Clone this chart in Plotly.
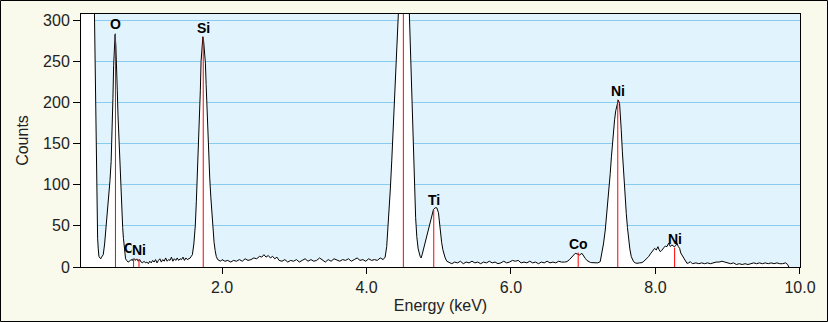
import plotly.graph_objects as go

# ---- Spectrum values, by region (energy keV, counts) ----
noise_o_e = [0.05, 0.12, 0.18, 0.22, 0.234, 0.255, 0.269, 0.278, 0.287, 0.296,
             0.31, 0.322, 0.333, 0.345, 0.356, 0.375, 0.393, 0.41, 0.43, 0.449,
             0.465, 0.48, 0.49, 0.50, 0.51, 0.52, 0.53, 0.54, 0.55, 0.56,
             0.57, 0.583, 0.595, 0.605, 0.615, 0.625, 0.635, 0.645, 0.655, 0.665]
noise_o_c = [900, 850, 700, 500, 310, 150, 49, 35, 22, 13,
             11, 10, 12, 13, 15, 28, 45, 65, 85, 105,
             128, 165, 205, 245, 272, 283, 270, 250, 215, 185,
             160, 140, 115, 90, 65, 48, 35, 25, 16, 10]

base1_e = [0.68, 0.70, 0.72, 0.74, 0.76, 0.78, 0.80, 0.82, 0.84, 0.86,
           0.88, 0.90, 0.92, 0.94, 0.96, 0.98, 1.00, 1.02, 1.04, 1.06,
           1.08, 1.10, 1.12, 1.14, 1.16, 1.18, 1.20, 1.22, 1.24, 1.26,
           1.28, 1.30, 1.32, 1.34, 1.36, 1.38, 1.40, 1.42, 1.44, 1.46,
           1.48, 1.50, 1.52, 1.54]
base1_c = [8, 6, 7, 9, 8, 12, 8, 10, 7, 9,
           6, 5, 7, 5, 6, 4, 7, 5, 8, 6,
           9, 5, 8, 10, 6, 9, 7, 11, 7, 9,
           8, 12, 7, 10, 8, 11, 8, 10, 9, 12,
           8, 11, 9, 10]

si_e = [1.56, 1.575, 1.59, 1.61, 1.63, 1.645, 1.66, 1.675, 1.69, 1.70,
        1.71, 1.72, 1.735, 1.745, 1.76, 1.77, 1.78, 1.79, 1.80, 1.815,
        1.83, 1.845, 1.86, 1.875, 1.89, 1.905, 1.92, 1.94]
si_c = [11, 13, 15, 28, 50, 80, 112, 145, 185, 215,
        250, 268, 280, 275, 262, 248, 222, 195, 165, 135,
        108, 85, 62, 45, 30, 20, 13, 9]

base2_e = [1.96, 1.98, 2.00, 2.04, 2.08, 2.12, 2.16, 2.20, 2.24, 2.28,
           2.32, 2.36, 2.40, 2.44, 2.48, 2.52, 2.55, 2.58, 2.61, 2.64,
           2.67, 2.70, 2.73, 2.76, 2.79, 2.83, 2.87, 2.91, 2.95, 2.99,
           3.03, 3.07, 3.11, 3.15, 3.19, 3.23, 3.27, 3.31, 3.35, 3.39,
           3.43, 3.47, 3.51, 3.55, 3.59, 3.63, 3.67, 3.71, 3.75, 3.79,
           3.83, 3.87, 3.91, 3.95, 3.99, 4.03, 4.07, 4.11, 4.15, 4.19,
           4.23]
base2_c = [8, 7, 9, 7, 8, 6, 8, 7, 9, 7,
           10, 8, 9, 11, 10, 13, 12, 15, 12, 14,
           11, 13, 10, 12, 8, 7, 9, 6, 8, 7,
           9, 6, 8, 10, 7, 9, 7, 8, 11, 8,
           6, 9, 7, 10, 8, 7, 9, 8, 10, 7,
           9, 11, 8, 9, 7, 10, 8, 9, 8, 11,
           9]

ti_e = [4.258, 4.28, 4.304, 4.33, 4.35, 4.375, 4.396, 4.415, 4.428, 4.442,
        4.47, 4.50, 4.52, 4.55, 4.575, 4.594, 4.613, 4.628, 4.641, 4.653,
        4.664, 4.68, 4.696, 4.715, 4.742, 4.756, 4.77, 4.788, 4.81, 4.835,
        4.858, 4.881, 4.905, 4.927, 4.95, 4.973, 4.996, 5.019, 5.04, 5.057,
        5.075, 5.089, 5.112]
ti_c = [12, 25, 53, 95, 130, 180, 231, 270, 292, 310,
        420, 560, 580, 480, 360, 307, 231, 190, 150, 118,
        90, 60, 37, 22, 13, 11, 15, 21, 29, 37,
        45, 53, 62, 70, 72, 72, 66, 45, 30, 21,
        14, 11, 7]

base3_e = [5.14, 5.18, 5.22, 5.26, 5.30, 5.34, 5.38, 5.42, 5.46, 5.50,
           5.54, 5.58, 5.62, 5.66, 5.70, 5.74, 5.78, 5.82, 5.86, 5.90,
           5.94, 5.98, 6.02, 6.06, 6.10, 6.14, 6.18, 6.22, 6.26, 6.30,
           6.34, 6.38, 6.42, 6.46, 6.50, 6.54, 6.58, 6.62, 6.66, 6.70,
           6.74]
base3_c = [6, 4, 6, 5, 7, 4, 6, 5, 7, 5,
           6, 4, 6, 5, 7, 5, 6, 4, 5, 7,
           5, 6, 8, 7, 8, 5, 6, 5, 7, 5,
           6, 4, 6, 5, 7, 5, 6, 5, 7, 6,
           6]

coni_e = [6.774, 6.81, 6.843, 6.87, 6.889, 6.921, 6.949, 6.982, 7.005, 7.028,
          7.05, 7.073, 7.10, 7.12, 7.145, 7.166, 7.20, 7.235, 7.259, 7.28,
          7.305, 7.32, 7.337, 7.355, 7.374, 7.39, 7.406, 7.42, 7.434, 7.45,
          7.467, 7.485, 7.503, 7.515, 7.526, 7.542, 7.558, 7.577, 7.596, 7.612,
          7.628, 7.645, 7.665, 7.68, 7.697, 7.72, 7.744, 7.78, 7.813, 7.84,
          7.859, 7.88, 7.905, 7.93, 7.951, 7.97, 7.988, 8.011, 8.034, 8.05,
          8.066, 8.085, 8.104, 8.12, 8.136, 8.159, 8.181, 8.205, 8.228, 8.245,
          8.26, 8.28, 8.298, 8.315, 8.334, 8.35, 8.367, 8.385, 8.399, 8.42,
          8.436, 8.46, 8.482, 8.51]
coni_c = [6.5, 9, 12.6, 15, 16.6, 15.8, 14.6, 16.6, 13, 10.5,
          8, 6.5, 5.5, 5.3, 5, 4.5, 5, 6.5, 16.6, 28,
          45, 58, 73, 92, 114, 134, 154, 167, 179, 190,
          199, 203, 199, 185, 167, 140, 114, 88, 65, 48,
          33, 22, 12.6, 9, 6.5, 5, 4.5, 5, 5.3, 7,
          8.5, 10, 12.6, 16, 18.7, 21, 22.7, 20.7, 24.7, 21,
          18.7, 20, 22.7, 24, 25.5, 24.7, 28.8, 25, 26.8, 25,
          24.7, 26, 28.8, 25, 22.7, 17, 14.6, 11, 8.5, 7,
          4.5, 5, 6.5, 4]

tail_e = [8.56, 8.60, 8.64, 8.68, 8.72, 8.76, 8.80, 8.84, 8.88, 8.92,
          8.96, 9.00, 9.04, 9.08, 9.12, 9.16, 9.20, 9.24, 9.28, 9.32,
          9.36, 9.40, 9.44, 9.48, 9.52, 9.56, 9.60, 9.64, 9.68, 9.72,
          9.76, 9.80, 9.83, 9.845]
tail_c = [5, 4, 5, 4, 5, 4, 5, 6, 6, 7,
          6, 5, 4, 5, 3, 4, 3, 4, 3, 4,
          5, 4, 5, 4, 5, 4, 5, 4, 5, 4,
          4, 5, 3, 0]

# ---- Element marker lines ----
line_energy = [0.525, 0.776, 0.851, 1.740, 4.510, 4.931, 6.930, 7.478, 8.265]
line_height = [284, 12, 10, 280, 700, 70, 17.4, 203.7, 23.5]
line_label = ["O", "Co", "Ni", "Si", "", "Ti", "Co", "Ni", "Ni"]

# ---- Axis ticks ----
x_tickvals = [2, 4, 6, 8, 10]
x_ticktext = ["2.0", "4.0", "6.0", "8.0", "10.0"]
y_tickvals = [0, 50, 100, 150, 200, 250, 300]
y_ticktext = ["0", "50", "100", "150", "200", "250", "300"]

energy = noise_o_e + base1_e + si_e + base2_e + ti_e + base3_e + coni_e + tail_e
counts = noise_o_c + base1_c + si_c + base2_c + ti_c + base3_c + coni_c + tail_c
assert len(energy) == len(counts)

FONT = "Liberation Sans, Arial, sans-serif"
PLOT_BG = "#E1F3FC"

fig = go.Figure()
fig.add_trace(go.Scatter(
    x=energy, y=counts, mode="lines",
    line=dict(color="black", width=1),
    fill="tozeroy", fillcolor="white",
    hoverinfo="skip", showlegend=False))

lx, ly = [], []
for e, h in zip(line_energy, line_height):
    lx += [e, e, None]
    ly += [0, h, None]
fig.add_trace(go.Scatter(
    x=lx, y=ly, mode="lines",
    line=dict(color="#FF0000", width=1),
    hoverinfo="skip", showlegend=False))

annotations = []
for i, (e, h, lab) in enumerate(zip(line_energy, line_height, line_label)):
    if not lab:
        continue
    ann = dict(
        x=e, y=h, xref="x", yref="y", text=lab, showarrow=False,
        xanchor="center", yanchor="bottom", borderpad=0,
        font=dict(family=FONT, size=14, color="black", weight="bold"))
    if i == 2:  # the Ni L label sits on top of the Co L label
        ann["bgcolor"] = PLOT_BG
    annotations.append(ann)

# plot area: left 81px, width 719px; top 14px, height 253px
L, W, T, H = 81, 719, 14, 253
fig.add_shape(type="rect", xref="paper", yref="paper",
              x0=(0.5 - L) / W, x1=(827.5 - L) / W,
              y0=1 - (321.5 - T) / H, y1=1 + (T - 0.5) / H,
              line=dict(color="black", width=1), fillcolor="rgba(0,0,0,0)",
              layer="above")

fig.update_layout(
    width=828, height=322, autosize=False,
    margin=dict(l=81, r=28, t=14, b=55),
    paper_bgcolor="#F9F9EC", plot_bgcolor=PLOT_BG,
    font=dict(family=FONT, size=16, color="#222222"),
    annotations=annotations,
    xaxis=dict(range=[0.048, 10.0005], tickvals=x_tickvals, ticktext=x_ticktext,
               ticks="outside", ticklen=6, tickcolor="black", showline=True,
               linecolor="black", linewidth=1, mirror=True, showgrid=False,
               zeroline=False, automargin=False,
               tickfont=dict(size=16, color="#222222"),
               title=dict(text="Energy (keV)", font=dict(size=16), standoff=4)),
    yaxis=dict(range=[0, 307.7], tickvals=y_tickvals, ticktext=y_ticktext,
               ticks="outside", ticklen=7, tickcolor="black", showline=True,
               linecolor="black", linewidth=1, mirror=True, showgrid=True,
               gridcolor="#88CCF0", gridwidth=1, zeroline=False, automargin=False,
               tickfont=dict(size=16, color="#222222"),
               title=dict(text="Counts", font=dict(size=16), standoff=10)),
)

fig.write_html("out.html", config={"displayModeBar": False},
               post_script="document.body.style.margin='0';")
